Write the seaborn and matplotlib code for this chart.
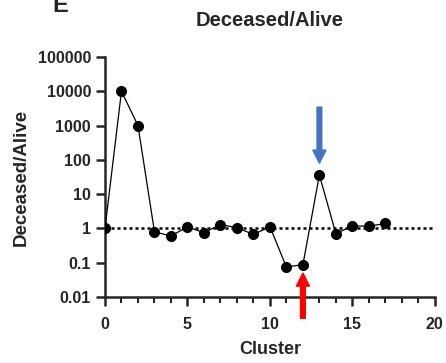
import matplotlib.pyplot as plt
import seaborn as sns
import pandas as pd
from matplotlib.ticker import FixedLocator, MultipleLocator, FuncFormatter

# Values
clusters = list(range(18))
ratio = [1.0, 10000, 1000, 0.8, 0.6, 1.12, 0.75, 1.3, 1.05, 0.67,
         1.12, 0.075, 0.088, 36, 0.70, 1.2, 1.15, 1.4]
y_ticks = [0.01, 0.1, 1, 10, 100, 1000, 10000, 100000]
x_ticks = [0, 5, 10, 15, 20]

sns.set_style("ticks")
plt.rcParams["font.family"] = ["Liberation Sans", "DejaVu Sans"]
plt.rcParams["font.weight"] = "bold"

df = pd.DataFrame({"Cluster": clusters, "Deceased/Alive": ratio})

fig = plt.figure(figsize=(4.46, 3.63), dpi=100)
ax = fig.add_axes([0.2354, 0.1818, 0.7396, 0.6612])

# reference line at 1
ax.axhline(1, color="black", linestyle=(0, (1.2, 1.2)), linewidth=1.8, zorder=1)

sns.lineplot(data=df, x="Cluster", y="Deceased/Alive", ax=ax, color="black",
             linewidth=0.9, marker="o", markersize=7.2, markeredgecolor="black",
             zorder=3)

ax.set_yscale("log")
ax.set_xlim(0, 20)
ax.set_ylim(0.01, 100000)
ax.yaxis.set_major_locator(FixedLocator(y_ticks))
ax.yaxis.set_minor_locator(FixedLocator([]))
ax.yaxis.set_major_formatter(FuncFormatter(lambda v, p: f"{v:g}" if v < 1 else f"{int(v)}"))
ax.xaxis.set_major_locator(FixedLocator(x_ticks))
ax.xaxis.set_minor_locator(MultipleLocator(1))

for side in ["top", "right"]:
    ax.spines[side].set_visible(False)
for side in ["left", "bottom"]:
    ax.spines[side].set_linewidth(1.8)
ax.tick_params(axis="both", which="major", width=1.8, length=6.5, labelsize=11.5)
ax.tick_params(axis="x", which="major", pad=8)
ax.tick_params(axis="x", which="minor", width=1.5, length=4)
for lab in ax.get_xticklabels() + ax.get_yticklabels():
    lab.set_fontweight("bold")

# arrows marking clusters 12 and 13
ax.annotate("", xy=(13, 80), xytext=(13, 3450),
            arrowprops=dict(facecolor="#4472c4", edgecolor="#4472c4",
                            width=3.4, headwidth=9.4, headlength=9.4),
            annotation_clip=False)
ax.annotate("", xy=(12, 0.05), xytext=(12, 0.0024),
            arrowprops=dict(facecolor="red", edgecolor="red",
                            width=3.4, headwidth=9.4, headlength=9.4),
            annotation_clip=False)

ax.set_title("Deceased/Alive", fontsize=14.5, fontweight="bold", pad=22)
ax.set_xlabel("Cluster", fontsize=13, fontweight="bold", labelpad=6.5)
ax.set_ylabel("Deceased/Alive", fontsize=13.5, fontweight="bold", labelpad=6)
fig.text(0.135, 0.967, "E", fontsize=17, ha="center", va="baseline")

fig.savefig("out.png", dpi=100)
plt.close(fig)
